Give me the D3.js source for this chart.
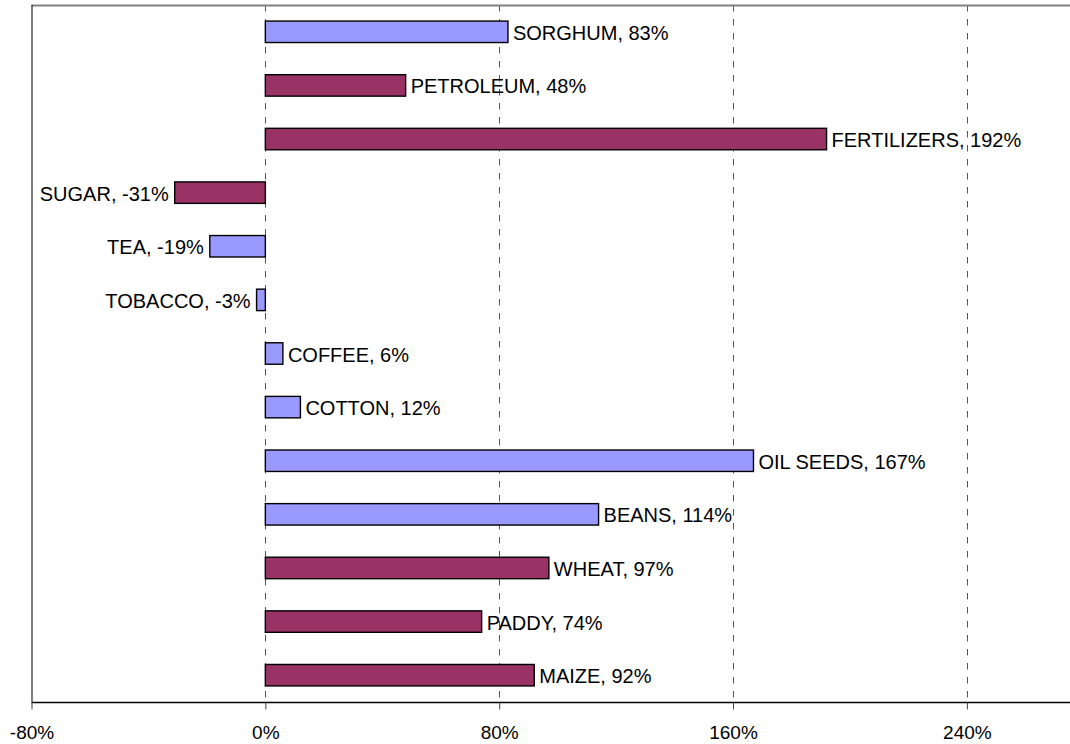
<!DOCTYPE html>
<html>
<head>
<meta charset="utf-8">
<script src="https://cdn.jsdelivr.net/npm/d3@7"></script>
<style>
  body { margin: 0; background: #fff; }
  svg { display: block; font-family: "Liberation Sans", Arial, sans-serif; }
</style>
</head>
<body>
<svg id="chart"></svg>
<script>
// data, top to bottom
var categories = ["SORGHUM", "PETROLEUM", "FERTILIZERS", "SUGAR", "TEA", "TOBACCO", "COFFEE",
                  "COTTON", "OIL SEEDS", "BEANS", "WHEAT", "PADDY", "MAIZE"];
var changes = [83, 48, 192, -31, -19, -3, 6, 12, 167, 114, 97, 74, 92];
var groups = ["blue", "red", "red", "red", "blue", "blue", "blue",
              "blue", "blue", "blue", "red", "red", "red"];
var tickValues = [-80, 0, 80, 160, 240];

var width = 1070, height = 744;
var plotLeft = 31.5, plotTop = 5, plotBottom = 702;

var svg = d3.select("#chart").attr("width", width).attr("height", height);

// 80% is about 234px; the plot runs past the right edge
var x = d3.scaleLinear().domain([-80, 280]).range([plotLeft, plotLeft + 360 * 2.923]);
var y = d3.scaleBand().domain(categories).range([plotTop, plotBottom]).paddingInner(0.6).paddingOuter(0.3);

var colors = { blue: "#9999ff", red: "#993366" };

// gridlines
svg.append("g").selectAll("line")
  .data(tickValues.filter(function(d){ return d > -80; }))
  .enter().append("line")
    .attr("x1", function(d){ return Math.round(x(d)) + 0.5; })
    .attr("x2", function(d){ return Math.round(x(d)) + 0.5; })
    .attr("y1", plotTop).attr("y2", plotBottom)
    .style("stroke", "#555")
    .style("stroke-width", 1)
    .style("stroke-dasharray", "6.5,7.5");

// top border
svg.append("line")
  .attr("x1", plotLeft).attr("x2", width)
  .attr("y1", plotTop + 0.5).attr("y2", plotTop + 0.5)
  .style("stroke", "#808080").style("stroke-width", 2);

// left border
svg.append("line")
  .attr("x1", plotLeft + 0.5).attr("x2", plotLeft + 0.5)
  .attr("y1", plotTop).attr("y2", plotBottom)
  .style("stroke", "#000").style("stroke-width", 1);

// bars
var data = categories.map(function(c, i){ return { name: c, value: changes[i], group: groups[i] }; });

svg.append("g").selectAll("rect")
  .data(data)
  .enter().append("rect")
    .attr("x", function(d){ return x(Math.min(0, d.value)); })
    .attr("y", function(d){ return y(d.name); })
    .attr("width", function(d){ return Math.abs(x(d.value) - x(0)); })
    .attr("height", y.bandwidth())
    .style("fill", function(d){ return colors[d.group]; })
    .style("stroke", "#000")
    .style("stroke-width", 1.4);

// labels
svg.append("g").selectAll("text")
  .data(data)
  .enter().append("text")
    .attr("x", function(d){ return d.value >= 0 ? x(d.value) + 5 : x(d.value) - 6; })
    .attr("y", function(d){ return y(d.name) + y.bandwidth() / 2 + 1; })
    .attr("dy", "0.35em")
    .attr("text-anchor", function(d){ return d.value >= 0 ? "start" : "end"; })
    .style("font-size", "20px")
    .style("fill", "#000")
    .text(function(d){ return d.name + ", " + d.value + "%"; });

// x axis
var xAxis = d3.axisBottom(x)
  .tickValues(tickValues)
  .tickSize(7)
  .tickFormat(function(d){ return d + "%"; });

var gx = svg.append("g")
  .attr("transform", "translate(0," + (plotBottom + 0.5) + ")")
  .call(xAxis);
gx.select(".domain").attr("d", "M" + plotLeft + ",0H" + width).style("stroke", "#000").style("stroke-width", 1.5);
gx.selectAll(".tick line").style("stroke", "#444");
gx.selectAll(".tick text")
  .attr("y", 23)
  .style("font-size", "19px")
  .style("font-family", "Liberation Sans, Arial, sans-serif")
  .style("fill", "#000");
</script>
</body>
</html>
